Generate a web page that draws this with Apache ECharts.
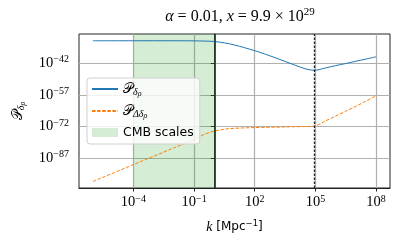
<!DOCTYPE html>
<html><head><meta charset="utf-8">
<script src="https://cdn.jsdelivr.net/npm/echarts@6/dist/echarts.min.js"></script>
<style>html,body{margin:0;padding:0;background:#fff}#c{width:402px;height:244px}</style>
</head><body><div id="c"></div>
<script>
// log10 k [Mpc^-1]
const logK = [-6, -4, -2, -1, -0.5, 0, 0.5, 1, 1.5, 2, 2.5, 3, 3.5, 4, 4.5, 4.94, 5.5, 6, 6.5, 7, 7.5, 8];
// log10 P_{delta_rho}
const logPdelta = [-31.3, -31.3, -31.3, -31.35, -31.45, -31.65, -32.3, -33.3, -34.6, -36.0, -37.6, -39.3, -41.1, -42.9, -44.6, -45.3, -44.2, -43.1, -42.1, -41.0, -40.0, -38.9];
// log10 P_{Delta delta_rho}
const logPDelta = [-98.0, -90.0, -82.1, -78.1, -75.7, -74.1, -73.2, -72.8, -72.6, -72.45, -72.35, -72.25, -72.15, -72.05, -71.95, -71.8, -69.3, -67.0, -64.7, -62.4, -59.9, -57.4];
const cmbRange = [-4, 0.04];
const markK = [0.04, 4.94];
const xTicks = [-4, -1, 2, 5, 8];
const yTicks = [-87, -72, -57, -42];

const serif = 'Liberation Serif';
const sans = 'DejaVu Sans';
const sup = {fontFamily: serif, fontSize: 10, color: '#000', padding: [0, 0, 7, 0]};
const base = {fontFamily: serif, fontSize: 14.5, color: '#000'};

function pow10(v) {
  const s = v < 0 ? '\u2212' + Math.abs(v) : String(v);
  return '{b|10}{s|' + s + '}';
}

const chart = echarts.init(document.getElementById('c'), null, {renderer: 'canvas'});
chart.setOption({
  animation: false,
  backgroundColor: '#fff',
  title: {
    text: '{i|\u03b1} = 0.01, {i|x} = 9.9 \u00d7 10{s|29}',
    left: 235, top: 2, textAlign: 'center',
    textStyle: {
      fontFamily: serif, fontSize: 16, fontWeight: 'normal', color: '#000',
      rich: {
        i: {fontFamily: serif, fontStyle: 'italic', fontSize: 16, color: '#000'},
        s: {fontFamily: serif, fontSize: 11, color: '#000', padding: [0, 0, 8, 0]}
      }
    }
  },
  grid: {left: 79, right: 12, top: 34, bottom: 56, show: true, borderColor: '#222', borderWidth: 1, backgroundColor: 'transparent'},
  legend: {
    orient: 'vertical', left: 87, top: 78,
    data: [
      {name: 'Pd', itemStyle: {opacity: 0}},
      {name: 'PDd', itemStyle: {opacity: 0}},
      {name: 'CMB scales', icon: 'rect', itemStyle: {color: 'rgba(44,160,44,0.2)'}}
    ],
    itemWidth: 26, itemHeight: 9, itemGap: 6,
    padding: [4, 6, 5, 4],
    backgroundColor: 'rgba(255,255,255,0.8)',
    borderColor: '#d0d0d0', borderWidth: 1, borderRadius: 3,
    formatter: function (n) {
      if (n === 'Pd') return '{P|\ud835\udcab}{s|\u03b4}{t|\u03c1}';
      if (n === 'PDd') return '{P|\ud835\udcab}{s|\u0394\u03b4}{t|\u03c1}';
      return n;
    },
    textStyle: {
      fontFamily: sans, fontSize: 12.5, color: '#000',
      rich: {
        P: {fontFamily: serif, fontSize: 14, color: '#000'},
        s: {fontFamily: serif, fontStyle: 'italic', fontSize: 10, color: '#000', padding: [6, 0, 0, 0]},
        t: {fontFamily: serif, fontStyle: 'italic', fontSize: 8, color: '#000', padding: [10, 0, 0, 0]}
      }
    }
  },
  xAxis: {
    type: 'value', min: -6.69, max: 8.69,
    name: '{i|k} [Mpc{s|\u22121}]', nameLocation: 'middle', nameGap: 31,
    nameTextStyle: {
      fontFamily: sans, fontSize: 12, color: '#000',
      rich: {
        i: {fontFamily: serif, fontStyle: 'italic', fontSize: 14, color: '#000'},
        s: {fontFamily: sans, fontSize: 8.5, color: '#000', padding: [0, 0, 7, 0]}
      }
    },
    axisLine: {show: true, lineStyle: {color: '#222', width: 1}},
    axisTick: {show: true, inside: false, length: 3.5, customValues: xTicks, lineStyle: {color: '#222', width: 1}},
    axisLabel: {customValues: xTicks, margin: 6, formatter: pow10, rich: {b: base, s: sup}},
    splitLine: {show: true, customValues: xTicks, lineStyle: {color: '#b0b0b0', width: 1.2}},
    minorTick: {show: false}
  },
  yAxis: {
    type: 'value', min: -101.1, max: -28.1,
    name: '{P|\ud835\udcab}{s|\u03b4}{t|\u03c1}', nameLocation: 'middle', nameGap: 52, nameRotate: 90,
    nameTextStyle: {
      rich: {
        P: {fontFamily: serif, fontSize: 14, color: '#000'},
        s: {fontFamily: serif, fontStyle: 'italic', fontSize: 10, color: '#000', padding: [6, 0, 0, 0]},
        t: {fontFamily: serif, fontStyle: 'italic', fontSize: 8, color: '#000', padding: [10, 0, 0, 0]}
      }
    },
    axisLine: {show: true, lineStyle: {color: '#222', width: 1}},
    axisTick: {show: true, inside: false, length: 3.5, customValues: yTicks, lineStyle: {color: '#222', width: 1}},
    axisLabel: {customValues: yTicks, margin: 10, formatter: pow10, rich: {b: base, s: sup}},
    splitLine: {show: true, customValues: yTicks, lineStyle: {color: '#b0b0b0', width: 1.2}}
  },
  series: [
    {
      name: 'CMB scales', type: 'line', data: [], silent: true, symbol: 'none',
      itemStyle: {color: 'rgba(44,160,44,0.2)'},
      markArea: {silent: true, itemStyle: {color: 'rgba(44,160,44,0.2)'}, data: [[{xAxis: cmbRange[0]}, {xAxis: cmbRange[1]}]]}
    },
    {
      name: 'Pd', type: 'line', symbol: 'none', smooth: 0.3, z: 3,
      data: logK.map((k, i) => [k, logPdelta[i]]),
      lineStyle: {color: '#1f77b4', width: 1},
      itemStyle: {color: '#1f77b4'},
      markLine: {
        silent: true, symbol: 'none', label: {show: false},
        data: [
          {xAxis: markK[0], lineStyle: {color: '#333', width: 0.9, type: 'solid'}},
          {xAxis: markK[1], lineStyle: {color: '#222', width: 1.3, type: [2.5, 1.5]}}
        ]
      }
    },
    {
      name: 'PDd', type: 'line', symbol: 'none', smooth: 0.3, z: 3,
      data: logK.map((k, i) => [k, logPDelta[i]]),
      lineStyle: {color: '#ff7f0e', width: 1, type: [3.5, 1.6]},
      itemStyle: {color: '#ff7f0e'}
    }
  ]
});
</script></body></html>
